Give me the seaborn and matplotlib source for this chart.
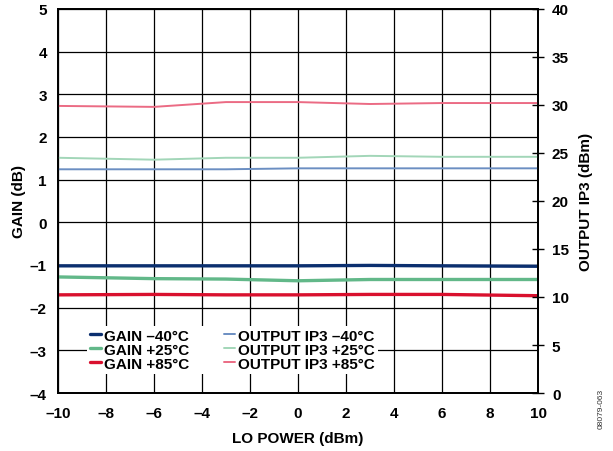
import numpy as np
import pandas as pd
import seaborn as sns
import matplotlib
matplotlib.use('Agg')
import matplotlib.pyplot as plt
from matplotlib.ticker import FuncFormatter

lo_power = [-10, -6, -3, 0, 3, 6, 10]

gain_m40 = [-1.02, -1.02, -1.02, -1.02, -1.01, -1.02, -1.03]
gain_p25 = [-1.28, -1.32, -1.33, -1.37, -1.34, -1.34, -1.34]
gain_p85 = [-1.70, -1.69, -1.70, -1.70, -1.69, -1.69, -1.72]

ip3_m40 = [23.3, 23.3, 23.3, 23.4, 23.4, 23.4, 23.4]
ip3_p25 = [24.5, 24.3, 24.5, 24.5, 24.7, 24.6, 24.6]
ip3_p85 = [29.9, 29.8, 30.3, 30.3, 30.1, 30.2, 30.2]

gain_labels = ['GAIN –40°C', 'GAIN +25°C', 'GAIN +85°C']
ip3_labels = ['OUTPUT IP3 –40°C', 'OUTPUT IP3 +25°C', 'OUTPUT IP3 +85°C']
gain_colors = ['#0b2f6f', '#62b889', '#d9102e']
ip3_colors = ['#6b8ec2', '#a2d6b8', '#eb6b84']

sns.set_style('white')
plt.rcParams['font.family'] = ['Liberation Sans', 'DejaVu Sans']
plt.rcParams['font.weight'] = 'bold'
plt.rcParams['axes.labelweight'] = 'bold'
plt.rcParams['text.color'] = 'black'
plt.rcParams['xtick.color'] = 'black'
plt.rcParams['ytick.color'] = 'black'
plt.rcParams['axes.labelcolor'] = 'black'


def dash_fmt(v, pos):
    s = '%g' % v
    return s.replace('-', '–')


fig = plt.figure(figsize=(6.13, 4.52), dpi=100)
ax = fig.add_axes([0.0946, 0.1283, 0.7831, 0.8497])
ax2 = ax.twinx()

for y, lab, col in zip([gain_m40, gain_p25, gain_p85], gain_labels, gain_colors):
    sns.lineplot(x=lo_power, y=y, ax=ax, color=col, linewidth=2.4, label=lab, legend=False)
for y, lab, col in zip([ip3_m40, ip3_p25, ip3_p85], ip3_labels, ip3_colors):
    sns.lineplot(x=lo_power, y=y, ax=ax2, color=col, linewidth=1.4, label=lab, legend=False)

ax.set_xlim(-10, 10)
ax.set_ylim(-4, 5)
ax2.set_ylim(0, 40)
ax.set_xticks(np.arange(-10, 11, 2))
ax.set_yticks(np.arange(-4, 6, 1))
ax2.set_yticks(np.arange(0, 41, 5))
ax.xaxis.set_major_formatter(FuncFormatter(dash_fmt))
ax.yaxis.set_major_formatter(FuncFormatter(dash_fmt))

ax.grid(True, color='black', linewidth=0.9)
ax.tick_params(axis='x', length=0, labelsize=11, pad=9)
ax.tick_params(axis='y', length=0, labelsize=11, pad=8)
ax2.tick_params(axis='y', direction='inout', length=8, width=1, labelsize=11, pad=6)
for sp in list(ax.spines.values()) + list(ax2.spines.values()):
    sp.set_color('black')
    sp.set_linewidth(1.3)

ax.set_xlabel('LO POWER (dBm)', fontsize=11, labelpad=8)
ax.set_ylabel('GAIN (dB)', fontsize=11, labelpad=3)
ax2.set_ylabel('OUTPUT IP3 (dBm)', fontsize=11, labelpad=7)

h1, l1 = ax.get_legend_handles_labels()
h2, l2 = ax2.get_legend_handles_labels()
leg = ax2.legend(h1 + h2, l1 + l2, ncol=2, loc='lower left', bbox_to_anchor=(0.06, 0.05),
                 frameon=True, fancybox=False, framealpha=1, facecolor='white', edgecolor='none',
                 fontsize=11, handlelength=0.75, handletextpad=0.15, columnspacing=2.3,
                 labelspacing=0.0, borderpad=0.2, borderaxespad=0)
for t in leg.get_texts():
    t.set_fontweight('bold')

fig.text(0.981, 0.095, '08079-063', rotation=90, fontsize=6, fontweight='normal',
         ha='center', va='center', color='#333333')

fig.savefig('out.png', dpi=100)
